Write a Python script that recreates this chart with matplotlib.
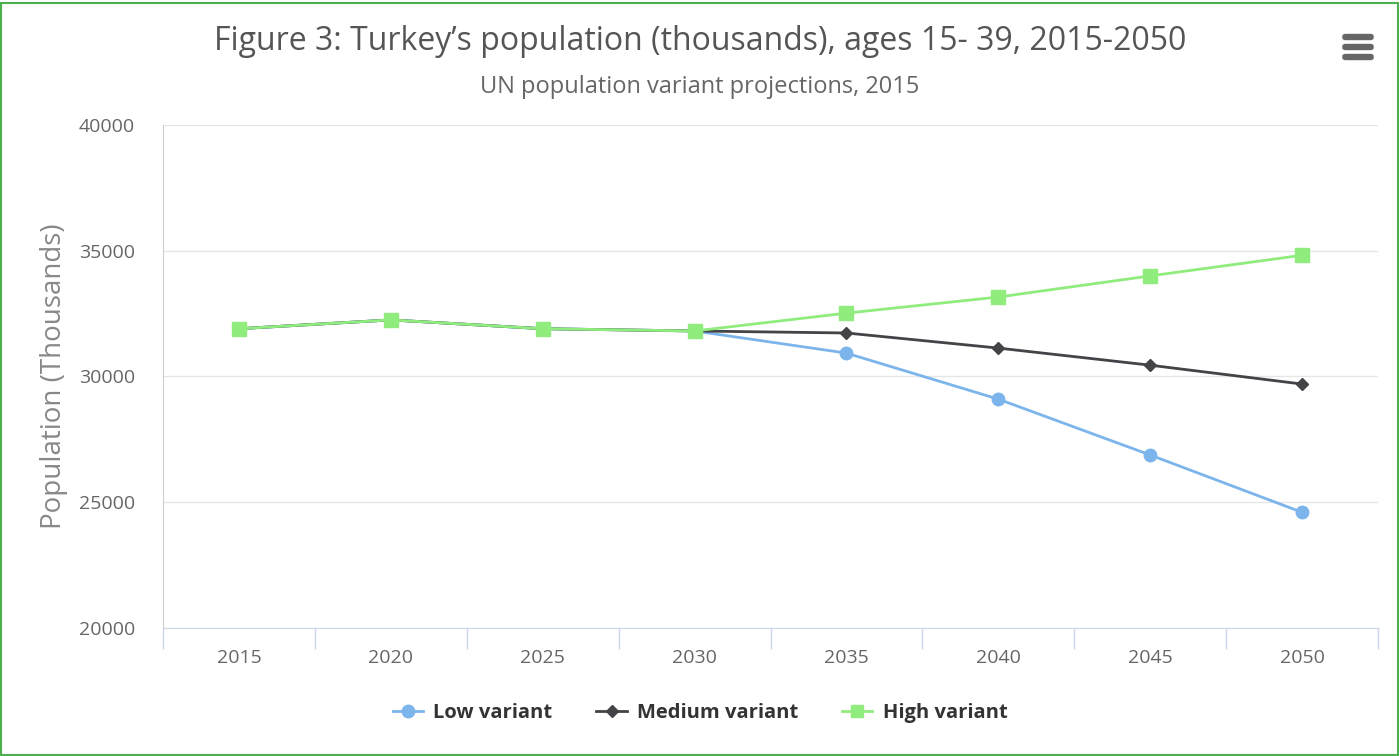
import matplotlib.pyplot as plt
from matplotlib.patches import Rectangle, FancyBboxPatch
from matplotlib.lines import Line2D

plt.rcParams['font.family'] = ['Open Sans', 'DejaVu Sans']

years = ['2015', '2020', '2025', '2030', '2035', '2040', '2045', '2050']
low = [31900, 32250, 31900, 31810, 30930, 29100, 26880, 24600]
medium = [31900, 32250, 31900, 31810, 31730, 31130, 30450, 29700]
high = [31900, 32250, 31900, 31810, 32520, 33160, 34000, 34820]

fig = plt.figure(figsize=(14, 7.56), dpi=100)
ax = fig.add_axes([163 / 1400, 1 - 628 / 756, (1378 - 163) / 1400, (628 - 125) / 756])

x = range(len(years))
ax.plot(x, low, color='#7cb5ec', lw=2, marker='o', ms=9, label='Low variant', zorder=3)
ax.plot(x, medium, color='#434348', lw=2, marker='D', ms=6, label='Medium variant', zorder=3)
ax.plot(x, high, color='#90ed7d', lw=2, marker='s', ms=9.5, label='High variant', zorder=4)

ax.set_xlim(-0.5, len(years) - 0.5)
ax.set_ylim(20000, 40000)
ax.set_yticks([20000, 25000, 30000, 35000, 40000])
ax.set_xticks(list(x))
ax.set_xticklabels(years)
ax.set_xticks([i + 0.5 for i in range(-1, len(years))], minor=True)
ax.grid(axis='y', color='#e6e6e6', lw=1)
ax.set_axisbelow(True)

for s in ['top', 'right']:
    ax.spines[s].set_visible(False)
ax.spines['left'].set_color('#cccccc')
ax.spines['bottom'].set_color('#ccd6eb')
ax.tick_params(axis='y', length=0, labelsize=14, labelcolor='#666666', pad=20)
ax.tick_params(axis='x', which='major', length=0, labelsize=14, labelcolor='#666666', pad=15)
ax.tick_params(axis='x', which='minor', length=15, color='#ccd6eb', width=1)
ax.set_ylabel('Population (Thousands)', fontsize=20, color='#888888', labelpad=8)

fig.text(0.5, 1 - 42 / 756, "Figure 3: Turkey\u2019s population (thousands), ages 15- 39, 2015-2050",
         ha='center', va='center', fontsize=23, color='#555555')
fig.text(0.5, 1 - 87 / 756, 'UN population variant projections, 2015',
         ha='center', va='center', fontsize=17, color='#666666')

handles = [
    Line2D([], [], color='#7cb5ec', lw=2, marker='o', ms=9),
    Line2D([], [], color='#434348', lw=2, marker='D', ms=6),
    Line2D([], [], color='#90ed7d', lw=2, marker='s', ms=9),
]
leg = fig.legend(handles, ['Low variant', 'Medium variant', 'High variant'], loc='center',
                 bbox_to_anchor=(0.5, 1 - 713 / 756), ncol=3, frameon=False,
                 prop={'weight': 'bold', 'size': 14.5}, handlelength=1.5,
                 columnspacing=2.2, handletextpad=0.5)
for t in leg.get_texts():
    t.set_color('#333333')

# hamburger menu icon
for yy in [37, 47, 57]:
    fig.patches.append(FancyBboxPatch((1343 / 1400, 1 - (yy + 2.5) / 756), 30 / 1400, 5 / 756,
                                      boxstyle='round,pad=0,rounding_size=0.002',
                                      transform=fig.transFigure, color='#666666'))

# green outer border
fig.patches.append(Rectangle((1 / 1400, 1 / 756), 1397 / 1400, 752 / 756, transform=fig.transFigure,
                             fill=False, edgecolor='#4caf50', lw=1.5))

fig.savefig('out.png', dpi=100)
